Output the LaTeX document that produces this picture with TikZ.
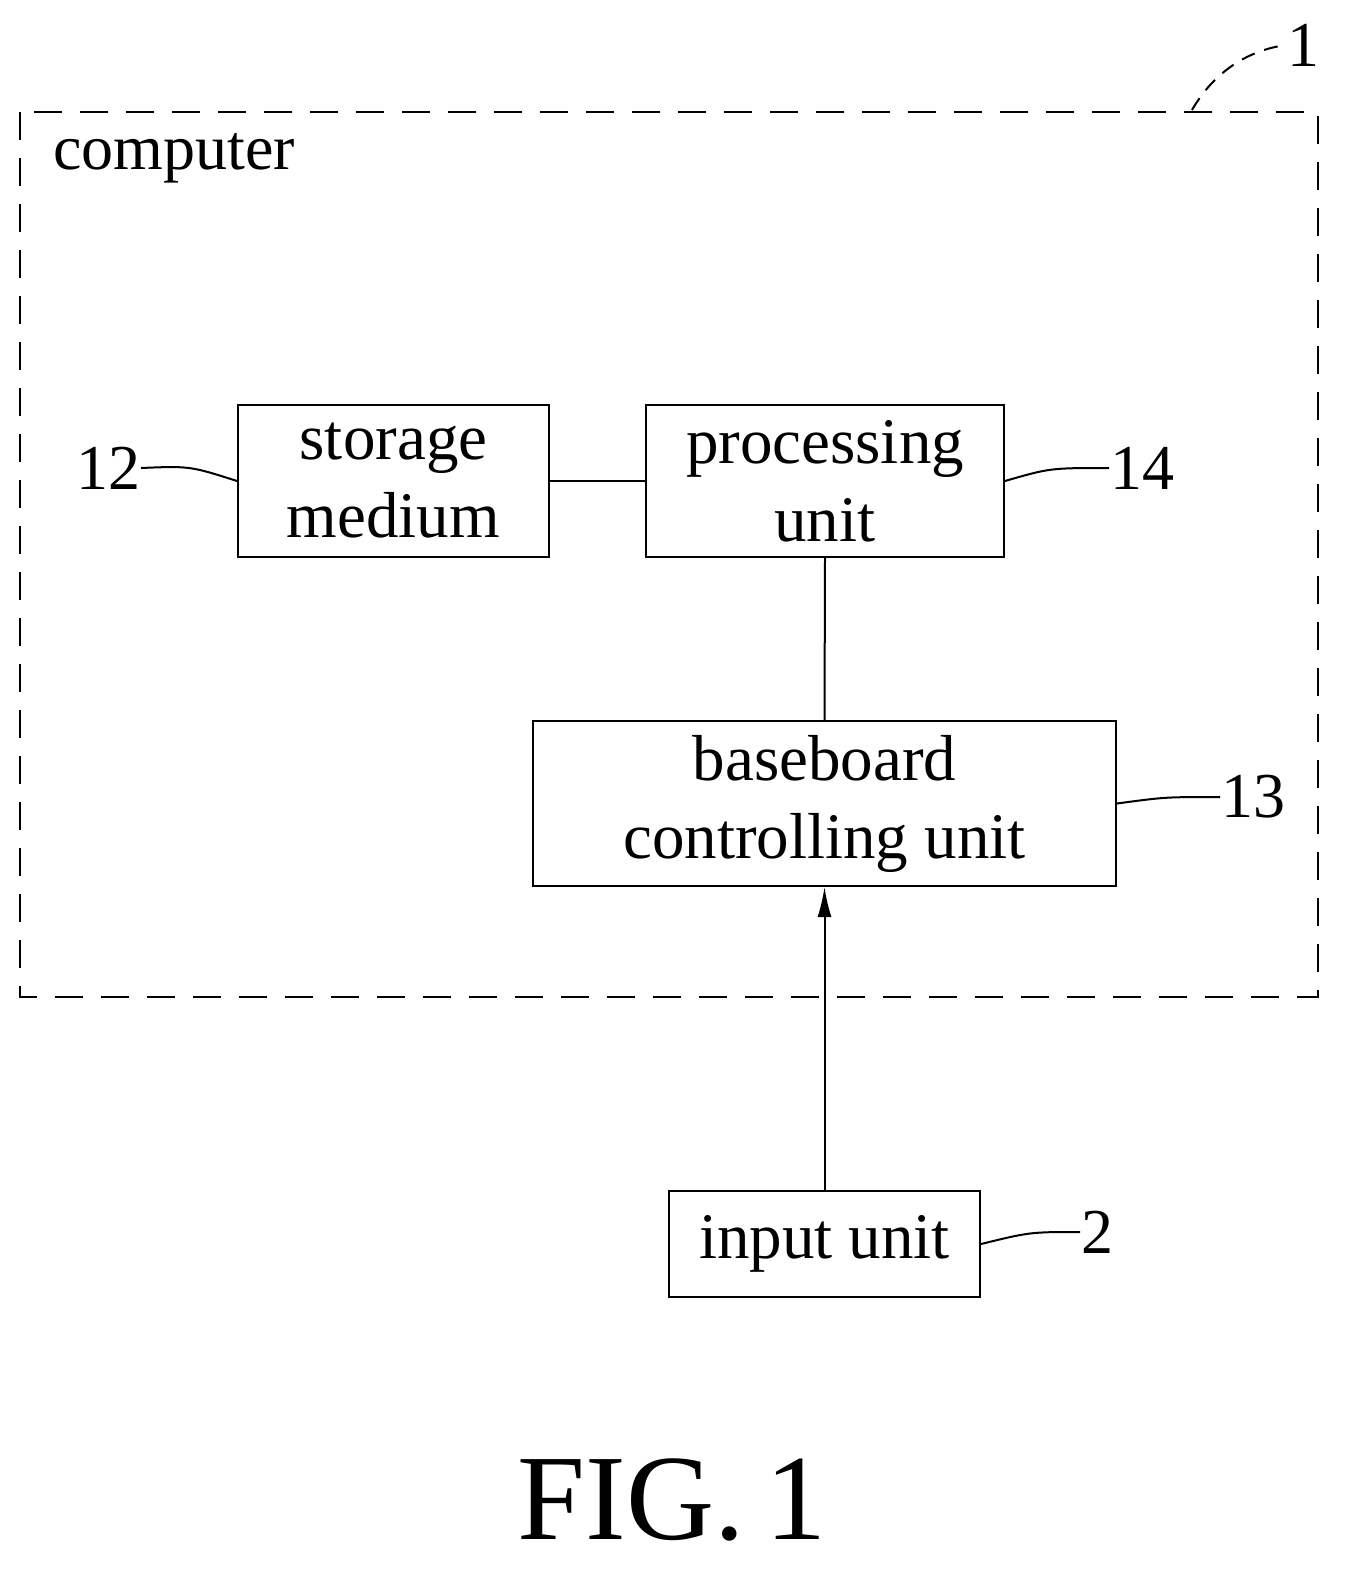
\documentclass[tikz,border=0pt]{standalone}
\usepackage{fontspec}
\setmainfont{Liberation Serif}
\usetikzlibrary{arrows.meta}
\begin{document}
\begin{tikzpicture}[x=1pt,y=-1pt,line width=2pt,
  box/.style={draw,inner sep=0pt,font=\fontsize{65}{78}\selectfont,align=center},
  lbl/.style={font=\fontsize{64}{70}\selectfont,inner sep=0pt}]
\useasboundingbox (0,0) rectangle (1347,1576);
\draw[dash pattern=on 28pt off 18pt] (20,112) rectangle (1318,997);
\node[font=\fontsize{64}{70}\selectfont,anchor=west,inner sep=0pt] (comp) at (52,158) {computer};
\node[box,minimum width=311pt,minimum height=152pt] (st) at (393.5,481) {storage\\medium};
\node[box,minimum width=358pt,minimum height=152pt] (pr) at (825,481) {processing\\unit};
\node[box,minimum width=583pt,minimum height=165pt] (bb) at (824.5,803.5) {baseboard\\controlling unit};
\node[box,minimum width=311pt,minimum height=106pt] (in) at (824.5,1244) {input unit};
\draw (st.east) -- (pr.west);
\draw (pr.south) -- (bb.north);
\draw[-{Latex[length=30pt,width=14pt]}] (in.north) -- (bb.south);
\node[lbl] (l12) at (108,468) {12};
\node[lbl] (l14) at (1142,468) {14};
\node[lbl] (l13) at (1253,797) {13};
\node[lbl] (l2) at (1097,1232) {2};
\node[lbl] (l1) at (1303,45) {1};
\draw (l12.east) .. controls (190,466) .. (st.west);
\draw (pr.east) .. controls (1050,468) .. (l14.west);
\draw (bb.east) .. controls (1165,797) .. (l13.west);
\draw (in.east) .. controls (1030,1232) .. (l2.west);
\coordinate (c1) at (1192,110);
\draw[dash pattern=on 14pt off 10pt] (c1) .. controls (1215,70) and (1250,50) .. (l1.west);
\node[font=\fontsize{122}{122}\selectfont,inner sep=0pt] (fig) at (672,1500) {FIG.\,1};
\end{tikzpicture}
\end{document}
